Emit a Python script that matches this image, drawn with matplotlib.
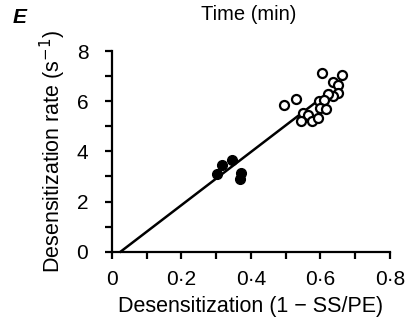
import numpy as np
import matplotlib
matplotlib.use("Agg")
import matplotlib.pyplot as plt

# filled circles
filled_x = [0.302, 0.318, 0.346, 0.371, 0.369]
filled_y = [3.10, 3.47, 3.64, 3.14, 2.90]

# open circles
open_x = [0.496, 0.530, 0.606, 0.662, 0.635, 0.650, 0.652, 0.637, 0.622, 0.597,
          0.610, 0.599, 0.615, 0.549, 0.565, 0.544, 0.575, 0.594]
open_y = [5.84, 6.07, 7.14, 7.06, 6.76, 6.64, 6.32, 6.20, 6.27, 6.00,
          6.05, 5.74, 5.70, 5.51, 5.43, 5.20, 5.23, 5.34]

# regression line
fit_x = [0.025, 0.63]
fit_slope = 10.6

xticks = [0, 0.2, 0.4, 0.6, 0.8]
xticklabels = ["0", "0·2", "0·4", "0·6", "0·8"]
yticks = [0, 2, 4, 6, 8]

plt.rcParams['font.family'] = ['Liberation Sans', 'DejaVu Sans']

fig = plt.figure(figsize=(4.07, 3.21), dpi=100)
ax = fig.add_axes([0.275, 0.216, 0.683, 0.625])

fx = np.array(fit_x)
ax.plot(fx, fit_slope * (fx - fit_x[0]), color='black', lw=1.8, clip_on=False)
ax.plot(filled_x, filled_y, 'o', color='black', ms=7, clip_on=False)
ax.plot(open_x, open_y, 'o', mfc='white', mec='black', mew=1.6, ms=6.5, clip_on=False)

ax.set_xlim(0, 0.8)
ax.set_ylim(0, 8)
ax.set_xticks(xticks)
ax.set_xticklabels(xticklabels)
ax.set_xticks([0.1, 0.3, 0.5, 0.7], minor=True)
ax.set_yticks(yticks)
ax.set_yticks([1, 3, 5, 7], minor=True)

for s in ['top', 'right']:
    ax.spines[s].set_visible(False)
for s in ['left', 'bottom']:
    ax.spines[s].set_linewidth(1.6)
ax.tick_params(which='both', direction='out', width=1.6, length=5, labelsize=15)
ax.tick_params(axis='y', which='major', pad=12)
ax.tick_params(axis='x', which='major', pad=8)

ax.set_xlabel('Desensitization (1 − SS/PE)', fontsize=15.5, labelpad=5)
ax.set_ylabel('Desensitization rate (s$^{-1}$)', fontsize=15.5, labelpad=6)
fig.text(0.61, 0.956, 'Time (min)', fontsize=14.5, ha='center', va='center')
fig.text(0.03, 0.944, 'E', fontsize=15, fontweight='bold', fontstyle='italic', va='center')

fig.savefig('out.png', dpi=100)
